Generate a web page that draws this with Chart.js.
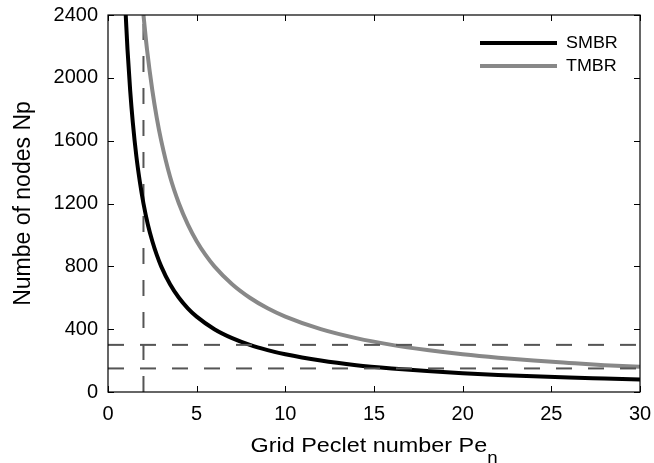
<!DOCTYPE html>
<html>
<head>
<meta charset="utf-8">
<script src="https://cdn.jsdelivr.net/npm/chart.js@4.4.1/dist/chart.umd.min.js"></script>
<style>
  html, body { margin: 0; padding: 0; background: #fff; }
  #wrap { width: 654px; height: 463px; }
</style>
</head>
<body>
<div id="wrap"><canvas id="c" width="654" height="463"></canvas></div>
<script>
// ---- Data ----
const peSMBR = [1, 1.1, 1.25, 1.4, 1.6, 1.8, 2, 2.25, 2.5, 2.75, 3, 3.5, 4, 4.5, 5, 6, 7, 8, 9, 10, 12, 14, 16, 18, 20, 22, 24, 26, 28, 30];
const npSMBR = [2400, 2180, 1920, 1715, 1500, 1335, 1200, 1065, 960, 873, 800, 686, 600, 533, 480, 400, 343, 300, 267, 240, 200, 171, 150, 133, 120, 109, 100, 92, 86, 80];
const peTMBR = [2, 2.2, 2.5, 2.75, 3, 3.5, 4, 4.5, 5, 5.5, 6, 7, 8, 9, 10, 12, 14, 16, 18, 20, 22, 24, 26, 28, 30];
const npTMBR = [2400, 2180, 1920, 1745, 1600, 1370, 1200, 1067, 960, 873, 800, 686, 600, 533, 480, 400, 343, 300, 267, 240, 218, 200, 185, 171, 160];
const seriesNames = ["SMBR", "TMBR"];
const refPe = 2;            // vertical dashed guide
const refNp = [300, 150];   // horizontal dashed guides
const xTicks = [0, 5, 10, 15, 20, 25, 30];
const yTicks = [0, 400, 800, 1200, 1600, 2000, 2400];
const xTitle = "Grid Peclet number Pe";
const xTitleSub = "n";
const yTitle = "Numbe of nodes Np";

const FONT = "'Liberation Sans', Arial, sans-serif";
const DASH = [16, 16];

const toPts = (xs, ys) => xs.map((x, i) => ({ x: x, y: ys[i] }));

const datasets = [
  { label: seriesNames[0], data: toPts(peSMBR, npSMBR), borderColor: "#000000", borderWidth: 4, cubicInterpolationMode: "monotone", order: 1 },
  { label: seriesNames[1], data: toPts(peTMBR, npTMBR), borderColor: "#888888", borderWidth: 4, cubicInterpolationMode: "monotone", order: 2 },
  { label: "_guide", data: [{ x: refPe, y: yTicks[0] }, { x: refPe, y: yTicks[yTicks.length - 1] }], borderColor: "#555555", borderWidth: 2, borderDash: DASH, order: 3 },
  { label: "_guide", data: [{ x: xTicks[0], y: refNp[0] }, { x: xTicks[xTicks.length - 1], y: refNp[0] }], borderColor: "#555555", borderWidth: 2, borderDash: DASH, order: 0 },
  { label: "_guide", data: [{ x: xTicks[0], y: refNp[1] }, { x: xTicks[xTicks.length - 1], y: refNp[1] }], borderColor: "#555555", borderWidth: 2, borderDash: DASH, order: 0 }
].map(d => Object.assign({ pointRadius: 0, fill: false, tension: 0 }, d));

function stretchedText(ctx, text, x, y, sx) {
  ctx.save();
  ctx.translate(x, y);
  ctx.scale(sx, 1);
  ctx.fillText(text, 0, 0);
  ctx.restore();
}

const framePlugin = {
  id: "frame",
  afterDraw(chart) {
    const { ctx, chartArea: a, scales } = chart;
    ctx.save();
    ctx.strokeStyle = "#000";
    ctx.lineWidth = 1.2;
    ctx.strokeRect(a.left, a.top, a.right - a.left, a.bottom - a.top);
    const tl = 6;
    ctx.lineWidth = 1;
    ctx.beginPath();
    xTicks.forEach(v => {
      const px = Math.round(scales.x.getPixelForValue(v)) + 0.5;
      ctx.moveTo(px, a.bottom); ctx.lineTo(px, a.bottom - tl);
      ctx.moveTo(px, a.top); ctx.lineTo(px, a.top + tl);
    });
    yTicks.forEach(v => {
      const py = Math.round(scales.y.getPixelForValue(v)) + 0.5;
      ctx.moveTo(a.left, py); ctx.lineTo(a.left + tl, py);
      ctx.moveTo(a.right, py); ctx.lineTo(a.right - tl, py);
    });
    ctx.stroke();

    // legend (inside top-right)
    ctx.textBaseline = "middle";
    ctx.textAlign = "left";
    ctx.font = "16px " + FONT;
    [0, 1].forEach(i => {
      const ds = chart.data.datasets[i];
      const y = 43 + i * 23;
      ctx.strokeStyle = ds.borderColor;
      ctx.lineWidth = 4;
      ctx.beginPath();
      ctx.moveTo(480, y); ctx.lineTo(557, y);
      ctx.stroke();
      ctx.fillStyle = "#000";
      stretchedText(ctx, ds.label, 566, y + 1, 1.12);
    });

    // x-axis title with subscript
    const sx = 1.17;
    ctx.textBaseline = "alphabetic";
    ctx.font = "20px " + FONT;
    const w1 = ctx.measureText(xTitle).width * sx;
    ctx.font = "16px " + FONT;
    const w2 = ctx.measureText(xTitleSub).width * sx;
    const cx = (a.left + a.right) / 2;
    const x0 = cx - (w1 + w2) / 2;
    ctx.fillStyle = "#000";
    ctx.font = "20px " + FONT;
    stretchedText(ctx, xTitle, x0, 452, sx);
    ctx.font = "16px " + FONT;
    stretchedText(ctx, xTitleSub, x0 + w1, 463, sx);
    ctx.restore();
  }
};

new Chart(document.getElementById("c"), {
  type: "line",
  data: { datasets: datasets },
  options: {
    responsive: false,
    animation: false,
    devicePixelRatio: 1,
    layout: { padding: { top: 15, right: 14, left: 0, bottom: 0 } },
    plugins: { legend: { display: false }, tooltip: { enabled: false } },
    scales: {
      x: {
        type: "linear",
        min: xTicks[0], max: xTicks[xTicks.length - 1],
        afterBuildTicks: s => { s.ticks = xTicks.map(v => ({ value: v })); },
        afterFit: s => { s.height = 71; s.paddingLeft = 0; s.paddingRight = 0; },
        grid: { display: false, drawTicks: false },
        border: { display: false },
        ticks: { color: "#000", font: { family: FONT, size: 20 }, padding: 10, maxRotation: 0, callback: v => String(v) },
        title: { display: false }
      },
      y: {
        type: "linear",
        min: yTicks[0], max: yTicks[yTicks.length - 1],
        afterBuildTicks: s => { s.ticks = yTicks.map(v => ({ value: v })); },
        afterFit: s => { s.width = 108; s.paddingTop = 0; s.paddingBottom = 0; },
        grid: { display: false, drawTicks: false },
        border: { display: false },
        ticks: { color: "#000", font: { family: FONT, size: 20 }, padding: 10, callback: v => String(v) },
        title: { display: true, text: yTitle, color: "#000", font: { family: FONT, size: 23, weight: "normal" }, padding: { top: 10, bottom: 0 } }
      }
    }
  },
  plugins: [framePlugin]
});
</script>
</body>
</html>
